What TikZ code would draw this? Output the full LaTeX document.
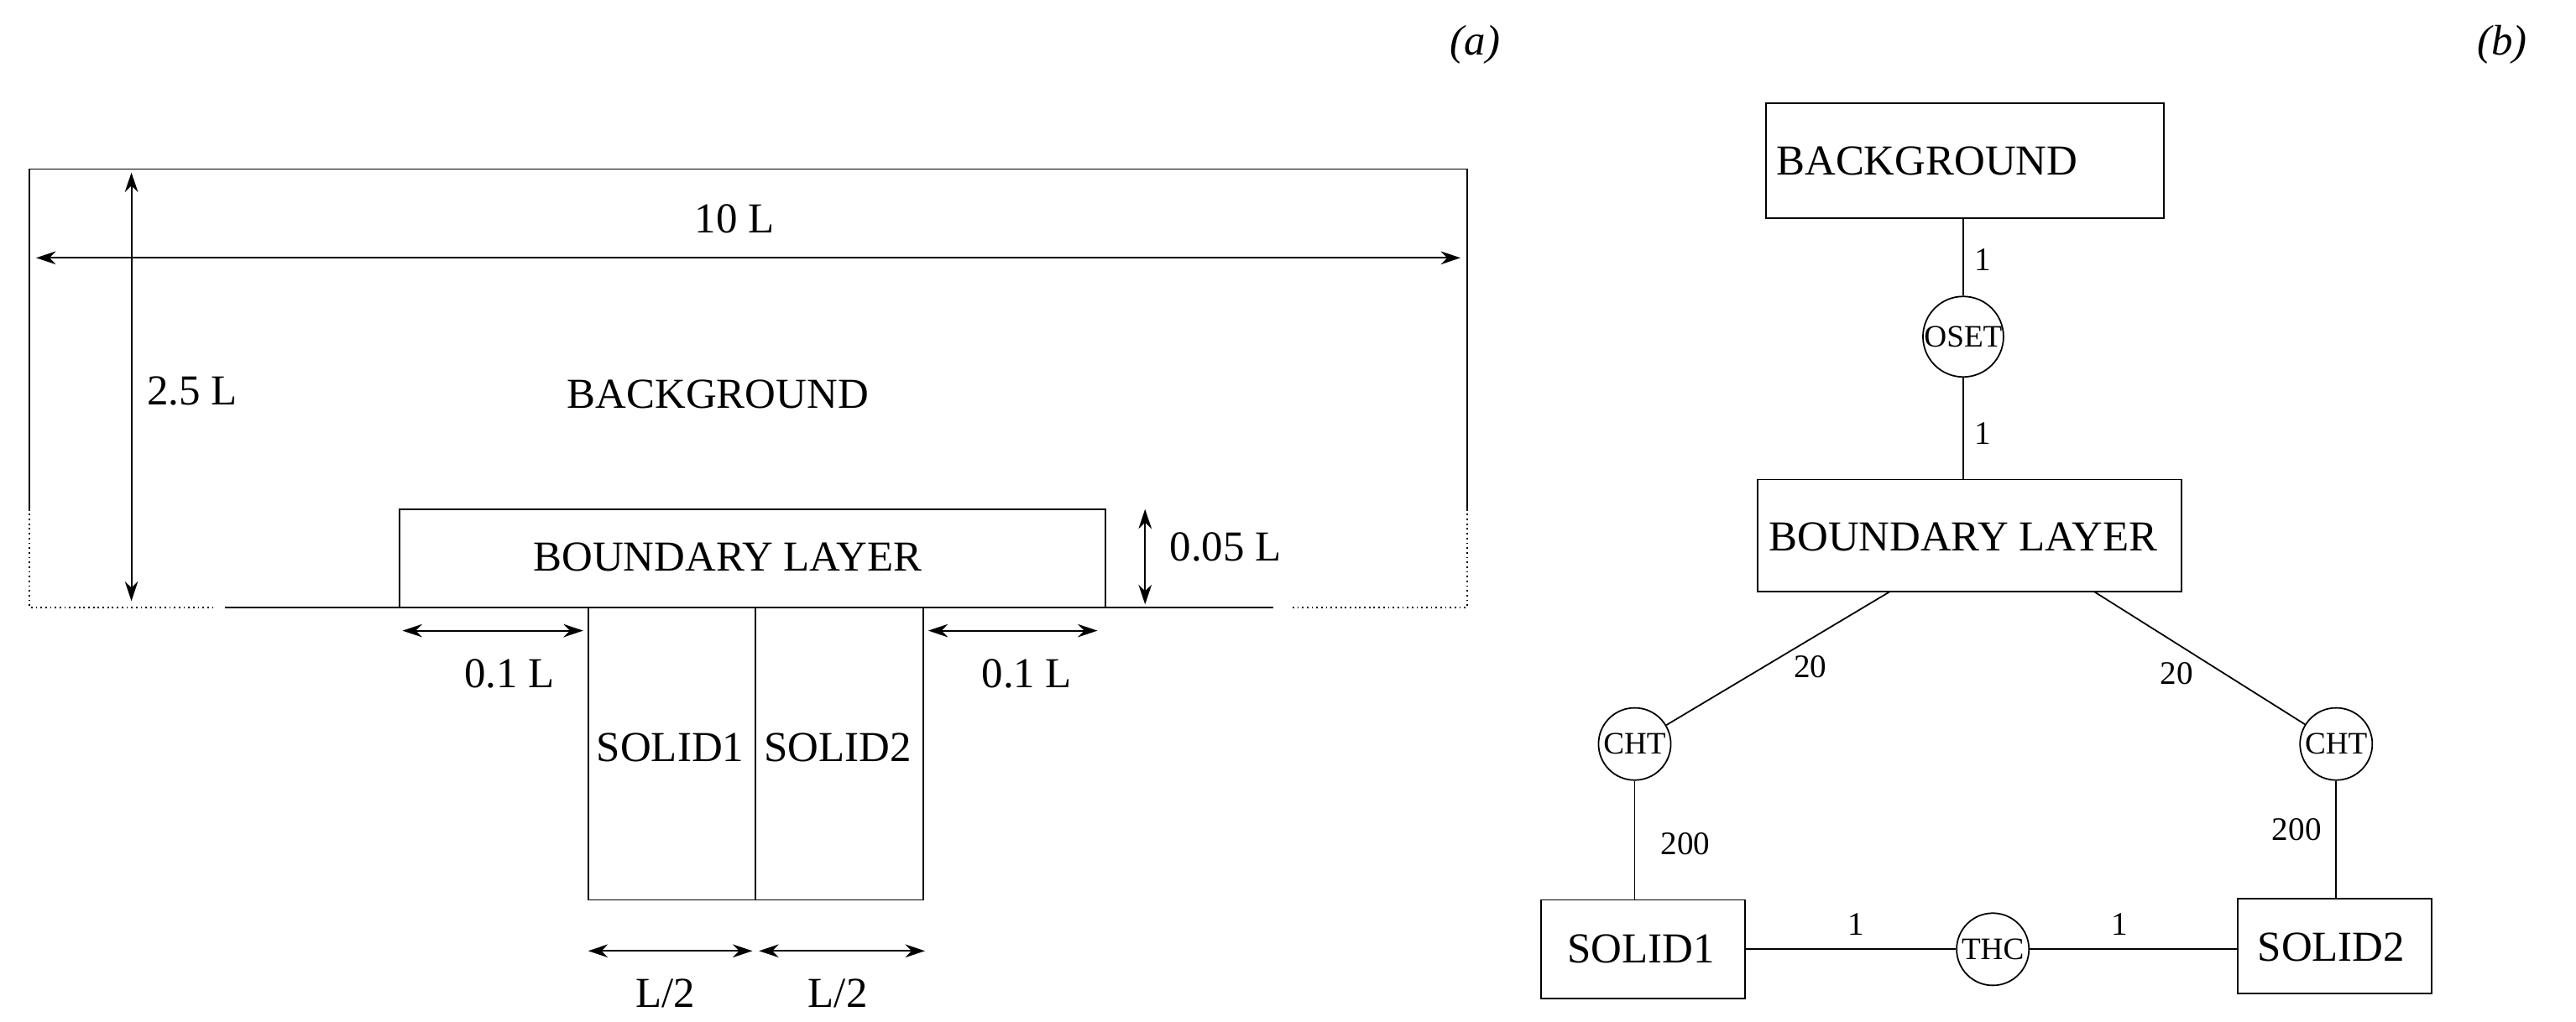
\documentclass[tikz,border=0pt]{standalone}
\usepackage{fontspec}
\setmainfont{Liberation Serif}
\usetikzlibrary{arrows.meta}
\begin{document}
\begin{tikzpicture}[x=1pt,y=-1pt,
  lbl/.style={font=\fontsize{26}{30}\selectfont,inner sep=1pt},
  sm/.style={font=\fontsize{20}{23}\selectfont,inner sep=1pt},
  dim/.style={{Stealth[length=12pt,width=8pt]}-{Stealth[length=12pt,width=8pt]},line width=1pt},
  box/.style={draw,line width=0.9pt},
  circ/.style={draw,circle,minimum size=44pt,inner sep=0pt,font=\fontsize{19}{21}\selectfont,line width=0.9pt}]
\useasboundingbox (0,0) rectangle (1568,622);
\tikzset{every path/.style={line width=0.9pt}}
% (a)
\node[lbl,font=\fontsize{26}{28}\selectfont\itshape] (la) at (898,27) {(a)};
\draw (18,310) -- (18,103) -- (893,103) -- (893,310);
\draw[dotted] (18,310) -- (18,370) -- (130,370);
\draw[dotted] (893,310) -- (893,370) -- (785,370);
\draw (137,370) -- (775,370);
\coordinate (h1) at (22,157); \coordinate (h2) at (889,157);
\draw[dim] (h1) -- (h2);
\node[lbl] (t10) at (447,133) {10 L};
\coordinate (v1) at (80,105); \coordinate (v2) at (80,366);
\draw[dim] (v1) -- (v2);
\node[lbl] (t25) at (117,238) {2.5 L};
\node[lbl] (bg) at (437,240) {BACKGROUND};
\node[box,minimum width=430pt,minimum height=60pt,inner sep=0pt] (bl) at (458,340) {};
\node[lbl] at (443,339) {BOUNDARY LAYER};
\coordinate (b1) at (697,310); \coordinate (b2) at (697,368);
\draw[dim] (b1) -- (b2);
\node[lbl] (t005) at (746,333) {0.05 L};
\node[box,minimum width=102pt,minimum height=178pt,inner sep=0pt] (s1) at (409,459) {};
\node[box,minimum width=102pt,minimum height=178pt,inner sep=0pt] (s2) at (511,459) {};
\node[lbl] at (408,455) {SOLID1};
\node[lbl] at (510,455) {SOLID2};
\coordinate (a1) at (245,384); \coordinate (a2) at (355,384);
\draw[dim] (a1) -- (a2);
\node[lbl] at (310,410) {0.1 L};
\coordinate (a3) at (565,384); \coordinate (a4) at (668,384);
\draw[dim] (a3) -- (a4);
\node[lbl] at (625,410) {0.1 L};
\coordinate (l1) at (358,579); \coordinate (l2) at (458,579);
\coordinate (l3) at (462,579); \coordinate (l4) at (563,579);
\draw[dim] (l1) -- (l2); \draw[dim] (l3) -- (l4);
\node[lbl] at (405,605) {L/2};
\node[lbl] at (510,605) {L/2};
% (b)
\node[lbl,font=\fontsize{26}{28}\selectfont\itshape] at (1523,27) {(b)};
\node[box,minimum width=242pt,minimum height=70pt,inner sep=0pt] (BG) at (1196,98) {};
\node[lbl] at (1173,98) {BACKGROUND};
\node[circ] (OS) at (1195,205) {OSET};
\node[box,minimum width=258pt,minimum height=68pt,inner sep=0pt] (BL) at (1199,326) {};
\node[lbl] at (1195,327) {BOUNDARY LAYER};
\node[circ] (C1) at (995,453) {CHT};
\node[circ] (C2) at (1422,453) {CHT};
\node[box,minimum width=124pt,minimum height=60pt,inner sep=0pt] (S1) at (1000,578) {};
\node[lbl] at (999,578) {SOLID1};
\node[box,minimum width=118pt,minimum height=58pt,inner sep=0pt] (S2) at (1421,576) {};
\node[lbl] at (1419,577) {SOLID2};
\node[circ] (TH) at (1213,578) {THC};
\draw (BG.south -| OS) -- (OS);
\draw (OS) -- (OS |- BL.north);
\draw ([xshift=-49pt]BL.south) -- (C1);
\draw ([xshift=76pt]BL.south) -- (C2);
\draw (C1) -- (C1 |- S1.north);
\draw (C2) -- (C2 |- S2.north);
\draw (S1.east) -- (TH);
\draw (TH) -- (S2.west |- TH);
\node[sm] at (1207,158) {1};
\node[sm] at (1207,264) {1};
\node[sm] at (1102,406) {20};
\node[sm] at (1325,410) {20};
\node[sm] at (1026,514) {200};
\node[sm] at (1398,505) {200};
\node[sm] at (1130,563) {1};
\node[sm] at (1290,563) {1};
\end{tikzpicture}
\end{document}
